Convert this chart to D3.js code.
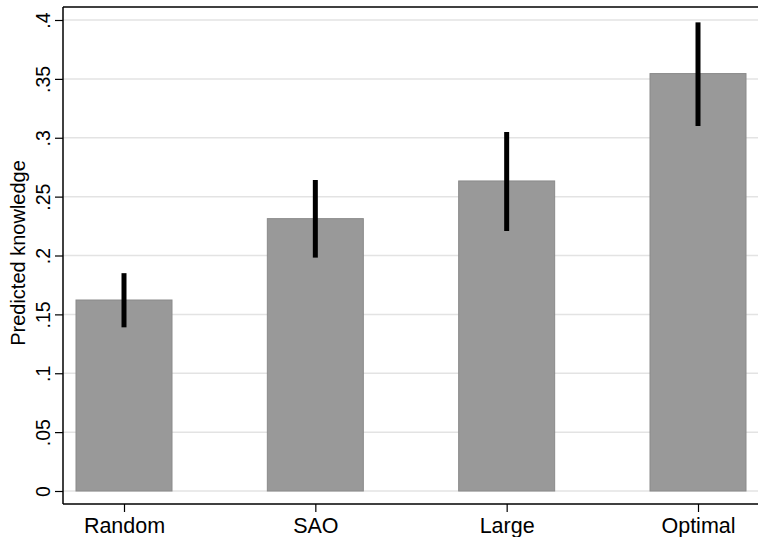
<!DOCTYPE html>
<html><head><meta charset="utf-8">
<script src="https://cdn.jsdelivr.net/npm/d3@7"></script>
<style>body{margin:0;background:#fff}svg{display:block}text{font-family:"Liberation Sans",Arial,Helvetica,sans-serif;fill:#000}</style>
</head><body>
<script>
const categories = ["Random", "SAO", "Large", "Optimal"];
const values = [0.1622, 0.2313, 0.2633, 0.3545];
const ciLow = [0.139, 0.1982, 0.2208, 0.310];
const ciHigh = [0.185, 0.2641, 0.3049, 0.398];
const yTicks = [0, 0.05, 0.1, 0.15, 0.2, 0.25, 0.3, 0.35, 0.4];
const yTickLabels = ["0", ".05", ".1", ".15", ".2", ".25", ".3", ".35", ".4"];
const yTitle = "Predicted knowledge";

(function () {
const W = 758, H = 537;
const svg = d3.select("body").append("svg").attr("width", W).attr("height", H);
const mLeft = 63, mTop = 7, mBottom = 504;

const y = d3.scaleLinear().domain([0, 0.4]).range([491, 20]);
const x = d3.scalePoint().domain(categories).range([124, 698]);
const barW = 96;

// gridlines
svg.append("g").selectAll("line").data(yTicks).join("line")
  .attr("x1", mLeft).attr("x2", W).attr("y1", d => y(d)).attr("y2", d => y(d))
  .attr("stroke", "#e3e3e3").attr("stroke-width", 1.5);

// bars
svg.append("g").selectAll("rect").data(values).join("rect")
  .attr("x", (d, i) => x(categories[i]) - barW / 2)
  .attr("y", d => y(d))
  .attr("width", barW)
  .attr("height", d => y(0) - y(d))
  .attr("fill", "#999999").attr("stroke", "#8a8a8a").attr("stroke-width", 1);

// error bars
svg.append("g").selectAll("line").data(categories).join("line")
  .attr("x1", d => x(d)).attr("x2", d => x(d))
  .attr("y1", (d, i) => y(ciLow[i])).attr("y2", (d, i) => y(ciHigh[i]))
  .attr("stroke", "#000").attr("stroke-width", 5);

// frame
svg.append("line").attr("x1", mLeft).attr("x2", W).attr("y1", mTop).attr("y2", mTop).attr("stroke", "#000").attr("stroke-width", 1.5);
svg.append("line").attr("x1", mLeft).attr("x2", W).attr("y1", mBottom).attr("y2", mBottom).attr("stroke", "#000").attr("stroke-width", 1.5);
svg.append("line").attr("x1", mLeft).attr("x2", mLeft).attr("y1", mTop).attr("y2", mBottom).attr("stroke", "#000").attr("stroke-width", 1.5);

// y axis
const yAxis = d3.axisLeft(y).tickValues(yTicks).tickFormat((d, i) => yTickLabels[i]).tickSize(8).tickPadding(5);
const gy = svg.append("g").attr("transform", `translate(${mLeft},0)`).call(yAxis);
gy.select(".domain").remove();
gy.selectAll(".tick line").attr("stroke", "#000").attr("stroke-width", 1.2);
gy.selectAll(".tick text")
  .attr("font-size", 19.5)
  .attr("font-family", "Liberation Sans, Arial, sans-serif")
  .attr("x", null).attr("dy", null)
  .attr("text-anchor", "middle")
  .attr("transform", "translate(-13,0) rotate(-90)");

// x axis
const xAxis = d3.axisBottom(x).tickSize(8).tickPadding(8);
const gx = svg.append("g").attr("transform", `translate(0,${mBottom})`).call(xAxis);
gx.select(".domain").remove();
gx.selectAll(".tick line").attr("stroke", "#000").attr("stroke-width", 1.2);
gx.selectAll(".tick text").attr("font-size", 21.5).attr("font-family", "Liberation Sans, Arial, sans-serif").attr("dy", null).attr("y", 29);

// y title
svg.append("text").attr("transform", `translate(25,253) rotate(-90)`)
  .attr("text-anchor", "middle").attr("font-size", 20).text(yTitle);
})();
</script>
</body></html>
